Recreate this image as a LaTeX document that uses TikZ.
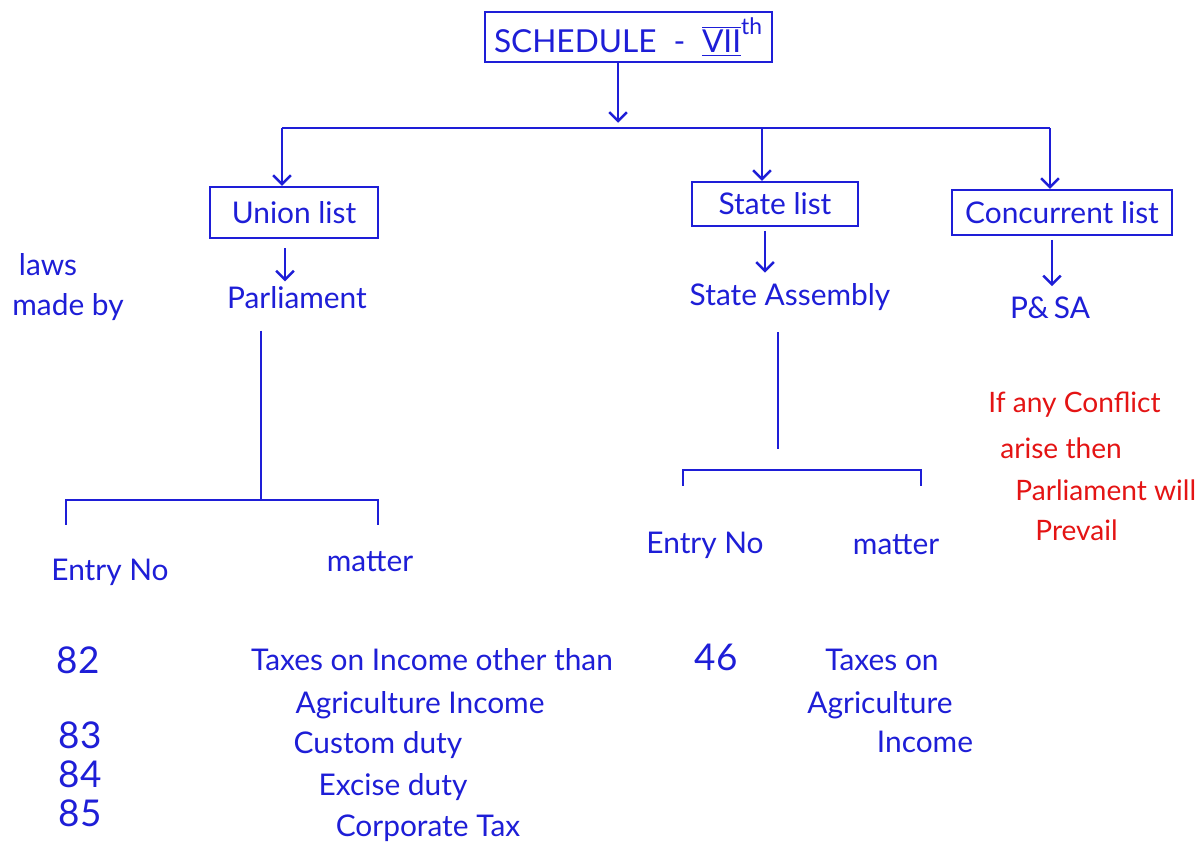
\documentclass[tikz,border=0pt]{standalone}
\usepackage{fontspec}
\setmainfont{Lato}
\usetikzlibrary{arrows.meta}
\definecolor{pen}{RGB}{30,30,215}
\definecolor{redpen}{RGB}{228,20,20}
\begin{document}
\begin{tikzpicture}[x=0.02cm,y=-0.02cm,
  every node/.style={text=pen, inner sep=0pt, font=\fontsize{17}{20}\selectfont},
  box/.style={draw=pen, line width=1.4pt},
  ln/.style={draw=pen, line width=1.4pt},
  arr/.style={ln, -{Straight Barb[length=5pt,width=10pt,line width=1.4pt]}},
  num/.style={font=\fontsize{21}{24}\selectfont},
  note/.style={text=redpen, anchor=west, font=\fontsize{16}{19}\selectfont}
]
\useasboundingbox[fill=white] (0,0) rectangle (1202,850);

% boxes
\node[box, minimum width=5.74cm, minimum height=1cm] (title) at (628.5,37)
  {\fontsize{18}{22}\selectfont SCHEDULE \;-\; $\overline{\underline{\hbox{VII}}}^{\hbox{\fontsize{13}{15}\selectfont th}}$};
\node[box, minimum width=3.36cm, minimum height=1.02cm] (union) at (294,212.5) {Union list};
\node[box, minimum width=3.32cm, minimum height=0.88cm] (state) at (775,204) {State list};
\node[box, minimum width=4.4cm, minimum height=0.9cm] (conc) at (1062,212.5) {Concurrent list};

% junctions
\coordinate (j0) at (618,128);
\coordinate (jL) at (282,128);
\coordinate (jS) at (762,128);
\coordinate (jC) at (1050,128);

\draw[arr, shorten >=3pt] (title.south -| j0) -- (j0);
\draw[ln] (jL) -- (jC);
\draw[arr] (jL) -- (jL |- union.north);
\draw[arr] (jS) -- (jS |- state.north);
\draw[arr] (jC) -- (jC |- conc.north);

% law makers
\node (laws) at (48,265) {laws};
\node (madeby) at (68,307) {made by};
\node (parl) at (297,298) {Parliament};
\node (assembly) at (790,297) {State Assembly};
\node (psa) at (1050,308) {P\&\,SA};

\coordinate (ua) at (285,0);
\coordinate (sa) at (765,0);
\coordinate (ca) at (1052,0);
\draw[arr, shorten <=5pt, shorten >=3pt] (union.south -| ua) -- (parl.north -| ua);
\draw[arr, shorten <=2pt, shorten >=6pt] (state.south -| sa) -- (assembly.north -| sa);
\draw[arr, shorten <=2pt, shorten >=6pt] (conc.south -| ca) -- (psa.north -| ca);

% note
\node[note] (n1) at (988,405) {If any Conflict};
\node[note] (n2) at (1000,448) {arise then};
\node[note] (n3) at (1015,490) {Parliament will};
\node[note] (n4) at (1035,530) {Prevail};

% union bracket
\coordinate (pB) at (261,500);
\coordinate (pBL) at (66,500);
\coordinate (pBR) at (378,500);
\draw[ln, shorten <=12pt] (parl.south -| pB) -- (pB);
\draw[ln] ([yshift=-14pt]pBL) -- (pBL) -- (pBR) -- ([yshift=-14pt]pBR);

% state bracket
\coordinate (sB) at (778,470);
\coordinate (sBL) at (683,470);
\coordinate (sBR) at (921,470);
\draw[ln, shorten <=12pt, shorten >=12pt] (assembly.south -| sB) -- (sB);
\draw[ln] ([yshift=-9pt]sBL) -- (sBL) -- (sBR) -- ([yshift=-9pt]sBR);

% headings
\node (ue) at (110,572) {Entry No};
\node (um) at (370,562) {matter};
\node (se) at (705,545) {Entry No};
\node (sm) at (896,545) {matter};

% union entries
\node[num] (e82) at (78,660) {82};
\node[num] (e83) at (80,735) {83};
\node[num] (e84) at (80,774) {84};
\node[num] (e85) at (80,813) {85};
\node (m82) at (432,660) {Taxes on Income other than};
\node (m82b) at (420,705) {Agriculture Income};
\node (m83) at (378,745) {Custom duty};
\node (m84) at (393,787) {Excise duty};
\node (m85) at (428,828) {Corporate Tax};

% state entries
\node[num] (e46) at (716,657) {46};
\node (m46) at (882,660) {Taxes on};
\node (m46b) at (880,705) {Agriculture};
\node (m46c) at (925,742) {Income};
\end{tikzpicture}
\end{document}
